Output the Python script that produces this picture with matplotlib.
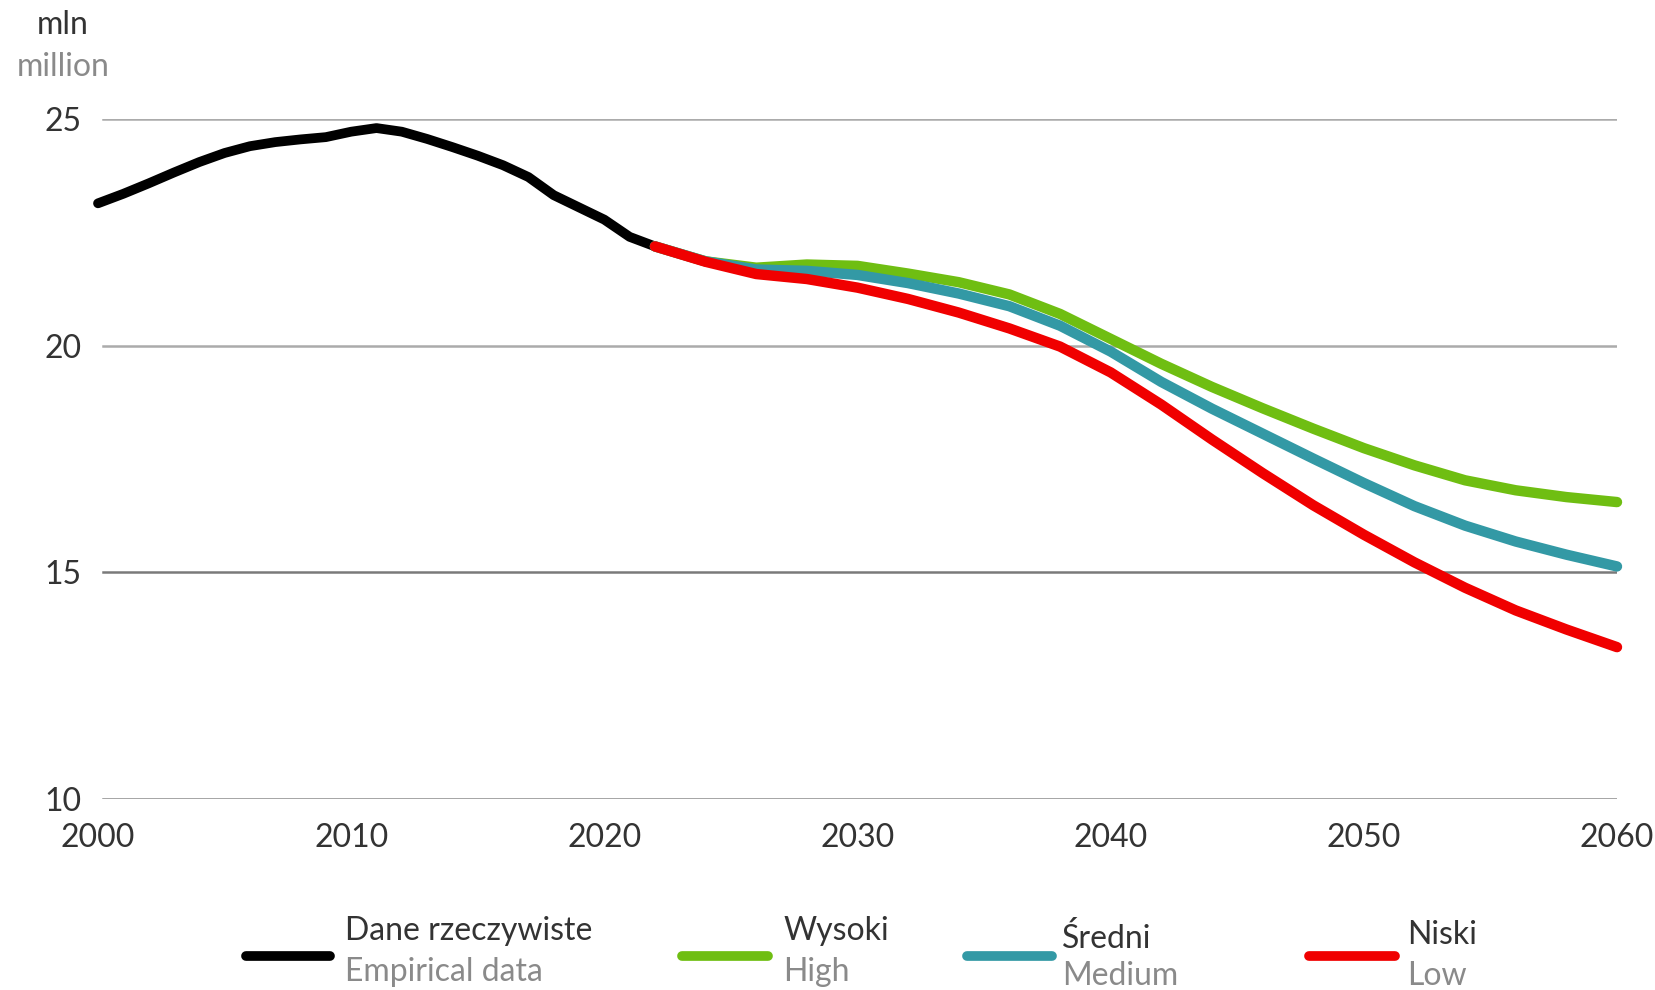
import matplotlib
matplotlib.use("Agg")
import matplotlib.pyplot as plt
from matplotlib.lines import Line2D

plt.rcParams['font.family'] = ['Lato', 'DejaVu Sans']

# empirical data, mln
years_hist = list(range(2000, 2023))
hist = [23.14, 23.35, 23.58, 23.82, 24.05, 24.25, 24.40, 24.49, 24.55, 24.60,
        24.72, 24.80, 24.72, 24.56, 24.38, 24.19, 23.98, 23.72, 23.32, 23.05,
        22.78, 22.40, 22.19]

# projection scenarios, every 2 years
years_proj = list(range(2022, 2061, 2))
high = [22.19, 21.86, 21.72, 21.79, 21.76, 21.59, 21.40, 21.13, 20.70, 20.15,
        19.60, 19.09, 18.62, 18.17, 17.74, 17.36, 17.03, 16.81, 16.66, 16.55]
medium = [22.19, 21.86, 21.68, 21.65, 21.56, 21.38, 21.15, 20.87, 20.44, 19.87,
          19.20, 18.61, 18.06, 17.51, 16.97, 16.46, 16.03, 15.68, 15.39, 15.13]
low = [22.19, 21.85, 21.58, 21.47, 21.28, 21.03, 20.73, 20.38, 19.98, 19.41,
       18.70, 17.93, 17.19, 16.48, 15.83, 15.22, 14.66, 14.16, 13.74, 13.35]

labels_pl = ['Dane rzeczywiste', 'Wysoki', 'Średni', 'Niski']
labels_en = ['Empirical data', 'High', 'Medium', 'Low']
colors = ['#000000', '#6fbe12', '#3399a5', '#f00000']

W, H = 1655, 990
fig = plt.figure(figsize=(W / 100, H / 100), dpi=100)
ax = fig.add_axes([98 / W, 1 - 799 / H, (1617 - 98) / W, (799 - 119) / H])

for y, c in zip([25, 20, 15, 10], ['#ababab', '#ababab', '#7a7a7a', '#8a8a8a']):
    ax.axhline(y, color=c, lw=1.8, zorder=1, xmin=0.003)

ax.plot(years_hist, hist, color=colors[0], lw=7, solid_capstyle='round',
        solid_joinstyle='round', zorder=3, clip_on=False)
for vals, c in zip([high, medium, low], colors[1:]):
    ax.plot(years_proj, vals, color=c, lw=7.5, solid_capstyle='round',
            solid_joinstyle='round', zorder=4, clip_on=False)

ax.set_xlim(2000, 2060)
ax.set_ylim(10, 25)
ax.set_xticks(range(2000, 2061, 10))
ax.set_yticks([10, 15, 20, 25])
for s in ax.spines.values():
    s.set_visible(False)
ax.tick_params(length=0, labelsize=23, labelcolor='#333333')
ax.tick_params(axis='x', pad=17)
ax.tick_params(axis='y', pad=12)

fig.text(63 / W, 1 - 25 / H, 'mln', ha='center', va='center', fontsize=23, color='#333333')
fig.text(63 / W, 1 - 67 / H, 'million', ha='center', va='center', fontsize=23, color='#8a8a8a')

# legend
leg_x = [(246, 330, 345), (682, 768, 783), (967, 1052, 1062), (1309, 1395, 1407)]
leg_y = [(931, 972), (931, 972), (938, 976), (935, 976)]
for (x0, x1, tx), (y1, y2), c, lp, le in zip(leg_x, leg_y, colors, labels_pl, labels_en):
    fig.add_artist(Line2D([x0 / W, x1 / W], [1 - 956 / H, 1 - 956 / H], color=c, lw=7,
                          solid_capstyle='round', transform=fig.transFigure))
    fig.text(tx / W, 1 - y1 / H, lp, ha='left', va='center', fontsize=23, color='#333333')
    fig.text(tx / W, 1 - y2 / H, le, ha='left', va='center', fontsize=23, color='#8a8a8a')

fig.savefig('out.png', dpi=100)
